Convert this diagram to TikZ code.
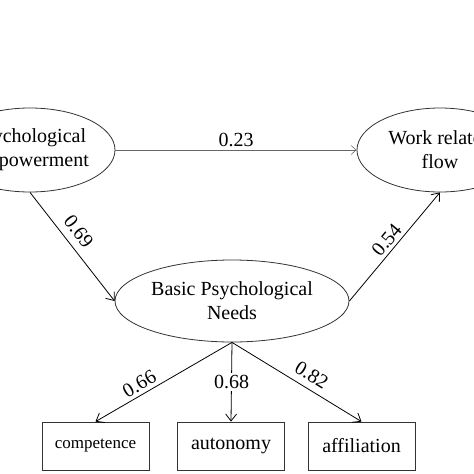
\documentclass[tikz,border=0pt]{standalone}
\usepackage{fontspec}
\setmainfont{Liberation Serif}
\usetikzlibrary{shapes.geometric,arrows.meta}
\begin{document}
\begin{tikzpicture}[x=1pt,y=-1pt,
  latent/.style={draw=black!80, line width=0.8pt, ellipse, align=center, inner sep=0pt,
    font=\fontsize{20}{24}\selectfont},
  indic/.style={draw=black!80, line width=0.8pt, rectangle, minimum width=107pt, minimum height=48pt,
    inner sep=0pt, font=\fontsize{20}{24}\selectfont},
  path/.style={draw, line width=0.8pt, -{Straight Barb[length=7pt,width=11pt]}},
  coef/.style={font=\fontsize{20}{24}\selectfont}]
\useasboundingbox (0,0) rectangle (474,474);
\clip (0,0) rectangle (474,474);
\node[latent, minimum width=170pt, minimum height=84pt] (pe) at (30,150) {Psychological\\Empowerment};
\node[latent, minimum width=166pt, minimum height=84pt] (wrf) at (440,150) {Work related\\flow};
\node[latent, minimum width=234pt, minimum height=82pt] (bpn) at (232,301) {Basic Psychological\\Needs};

\node[indic, font=\fontsize{17}{20}\selectfont] (comp) at (95.5,446) {competence};
\node[indic] (auto) at (231,446) {autonomy};
\node[indic] (affi) at (361.5,446) {affiliation};

\path[path, draw=black!60, line width=0.6pt, -{Straight Barb[length=5pt,width=9pt]}] (pe.east) -- node[coef,above] {0.23} (wrf.west);
\path[path] (pe.south) -- node[coef,above=4pt,sloped,pos=0.44] {0.69} (bpn.west);
\path[path] (bpn.east) -- node[coef,above,sloped] {0.54} (wrf.south);

\path[path] (bpn.south) -- node[coef,above,sloped,pos=0.64] {0.66} (comp.north);
\path[path] (bpn.south) -- node[coef,fill=white,inner sep=2pt] {0.68} (auto.north);
\path[path] (bpn.south) -- node[coef,above=3pt,sloped,pos=0.56] {0.82} (affi.north);
\end{tikzpicture}
\end{document}
